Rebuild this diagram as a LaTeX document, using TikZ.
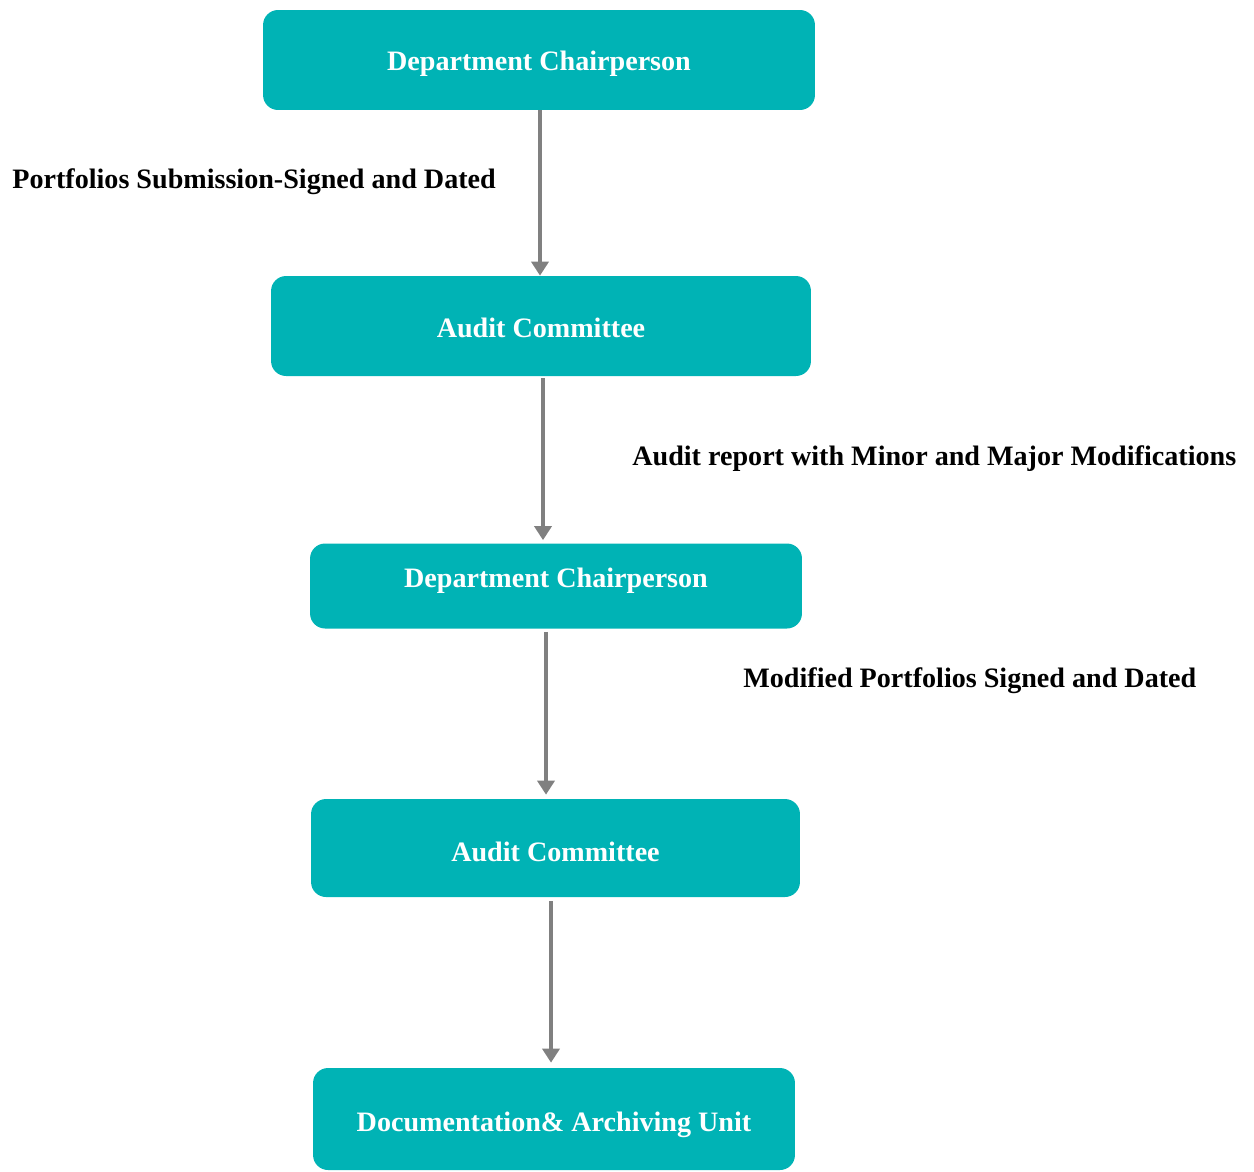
\documentclass[tikz,border=0pt]{standalone}
\usepackage{fontspec}
\setmainfont{Liberation Serif}
\usetikzlibrary{arrows.meta}
\definecolor{boxteal}{HTML}{00B3B5}
\definecolor{arrgray}{HTML}{808080}
\begin{document}
\begin{tikzpicture}[x=0.02cm,y=-0.02cm]
\tikzstyle{unit}=[rectangle,rounded corners=0.3cm,fill=boxteal,text=white,font=\fontsize{16}{18}\selectfont\bfseries,text height=11.2pt,text depth=0pt]
\tikzstyle{flow}=[draw=arrgray,line width=2.2pt,-{Triangle[width=0.34cm,length=0.28cm]}]
\tikzstyle{note}=[anchor=west,inner sep=0pt,font=\fontsize{16}{18}\selectfont\bfseries,text height=11.2pt,text depth=0pt]

\useasboundingbox (0,0) rectangle (1254,1171);

\node[unit,minimum width=11.04cm,minimum height=2cm,text height=12.3pt] (chair1) at (539,60) {Department Chairperson};
\node[unit,minimum width=10.8cm,minimum height=2cm,text height=13.5pt] (audit1) at (541,326) {Audit Committee};
\node[unit,minimum width=9.84cm,minimum height=1.7cm,text depth=9.1pt] (chair2) at (556,586) {Department Chairperson};
\node[unit,minimum width=9.78cm,minimum height=1.96cm,text height=15.75pt] (audit2) at (555.5,848) {Audit Committee};
\node[unit,minimum width=9.64cm,minimum height=2.04cm,text height=14.6pt] (archive) at (554,1119) {Documentation\& Archiving Unit};


\draw[flow] ([xshift=0.02cm]chair1.south) -- ([xshift=0.02cm]chair1.south |- audit1.north);
\draw[flow,shorten <=0.04cm,shorten >=0.06cm] ([xshift=0.04cm]audit1.south) -- ([xshift=0.04cm]audit1.south |- chair2.north);
\draw[flow,shorten <=0.06cm,shorten >=0.08cm] ([xshift=-0.2cm]chair2.south) -- ([xshift=-0.2cm]chair2.south |- audit2.north);
\draw[flow,shorten <=0.08cm,shorten >=0.1cm] ([xshift=-0.09cm]audit2.south) -- ([xshift=-0.09cm]audit2.south |- archive.north);


\node[note] (lab1) at (12,179) {Portfolios Submission-Signed and Dated};
\node[note] (lab2) at (632,456) {Audit report with Minor and Major Modifications};
\node[note] (lab3) at (743,678) {Modified Portfolios Signed and Dated};

\end{tikzpicture}
\end{document}
